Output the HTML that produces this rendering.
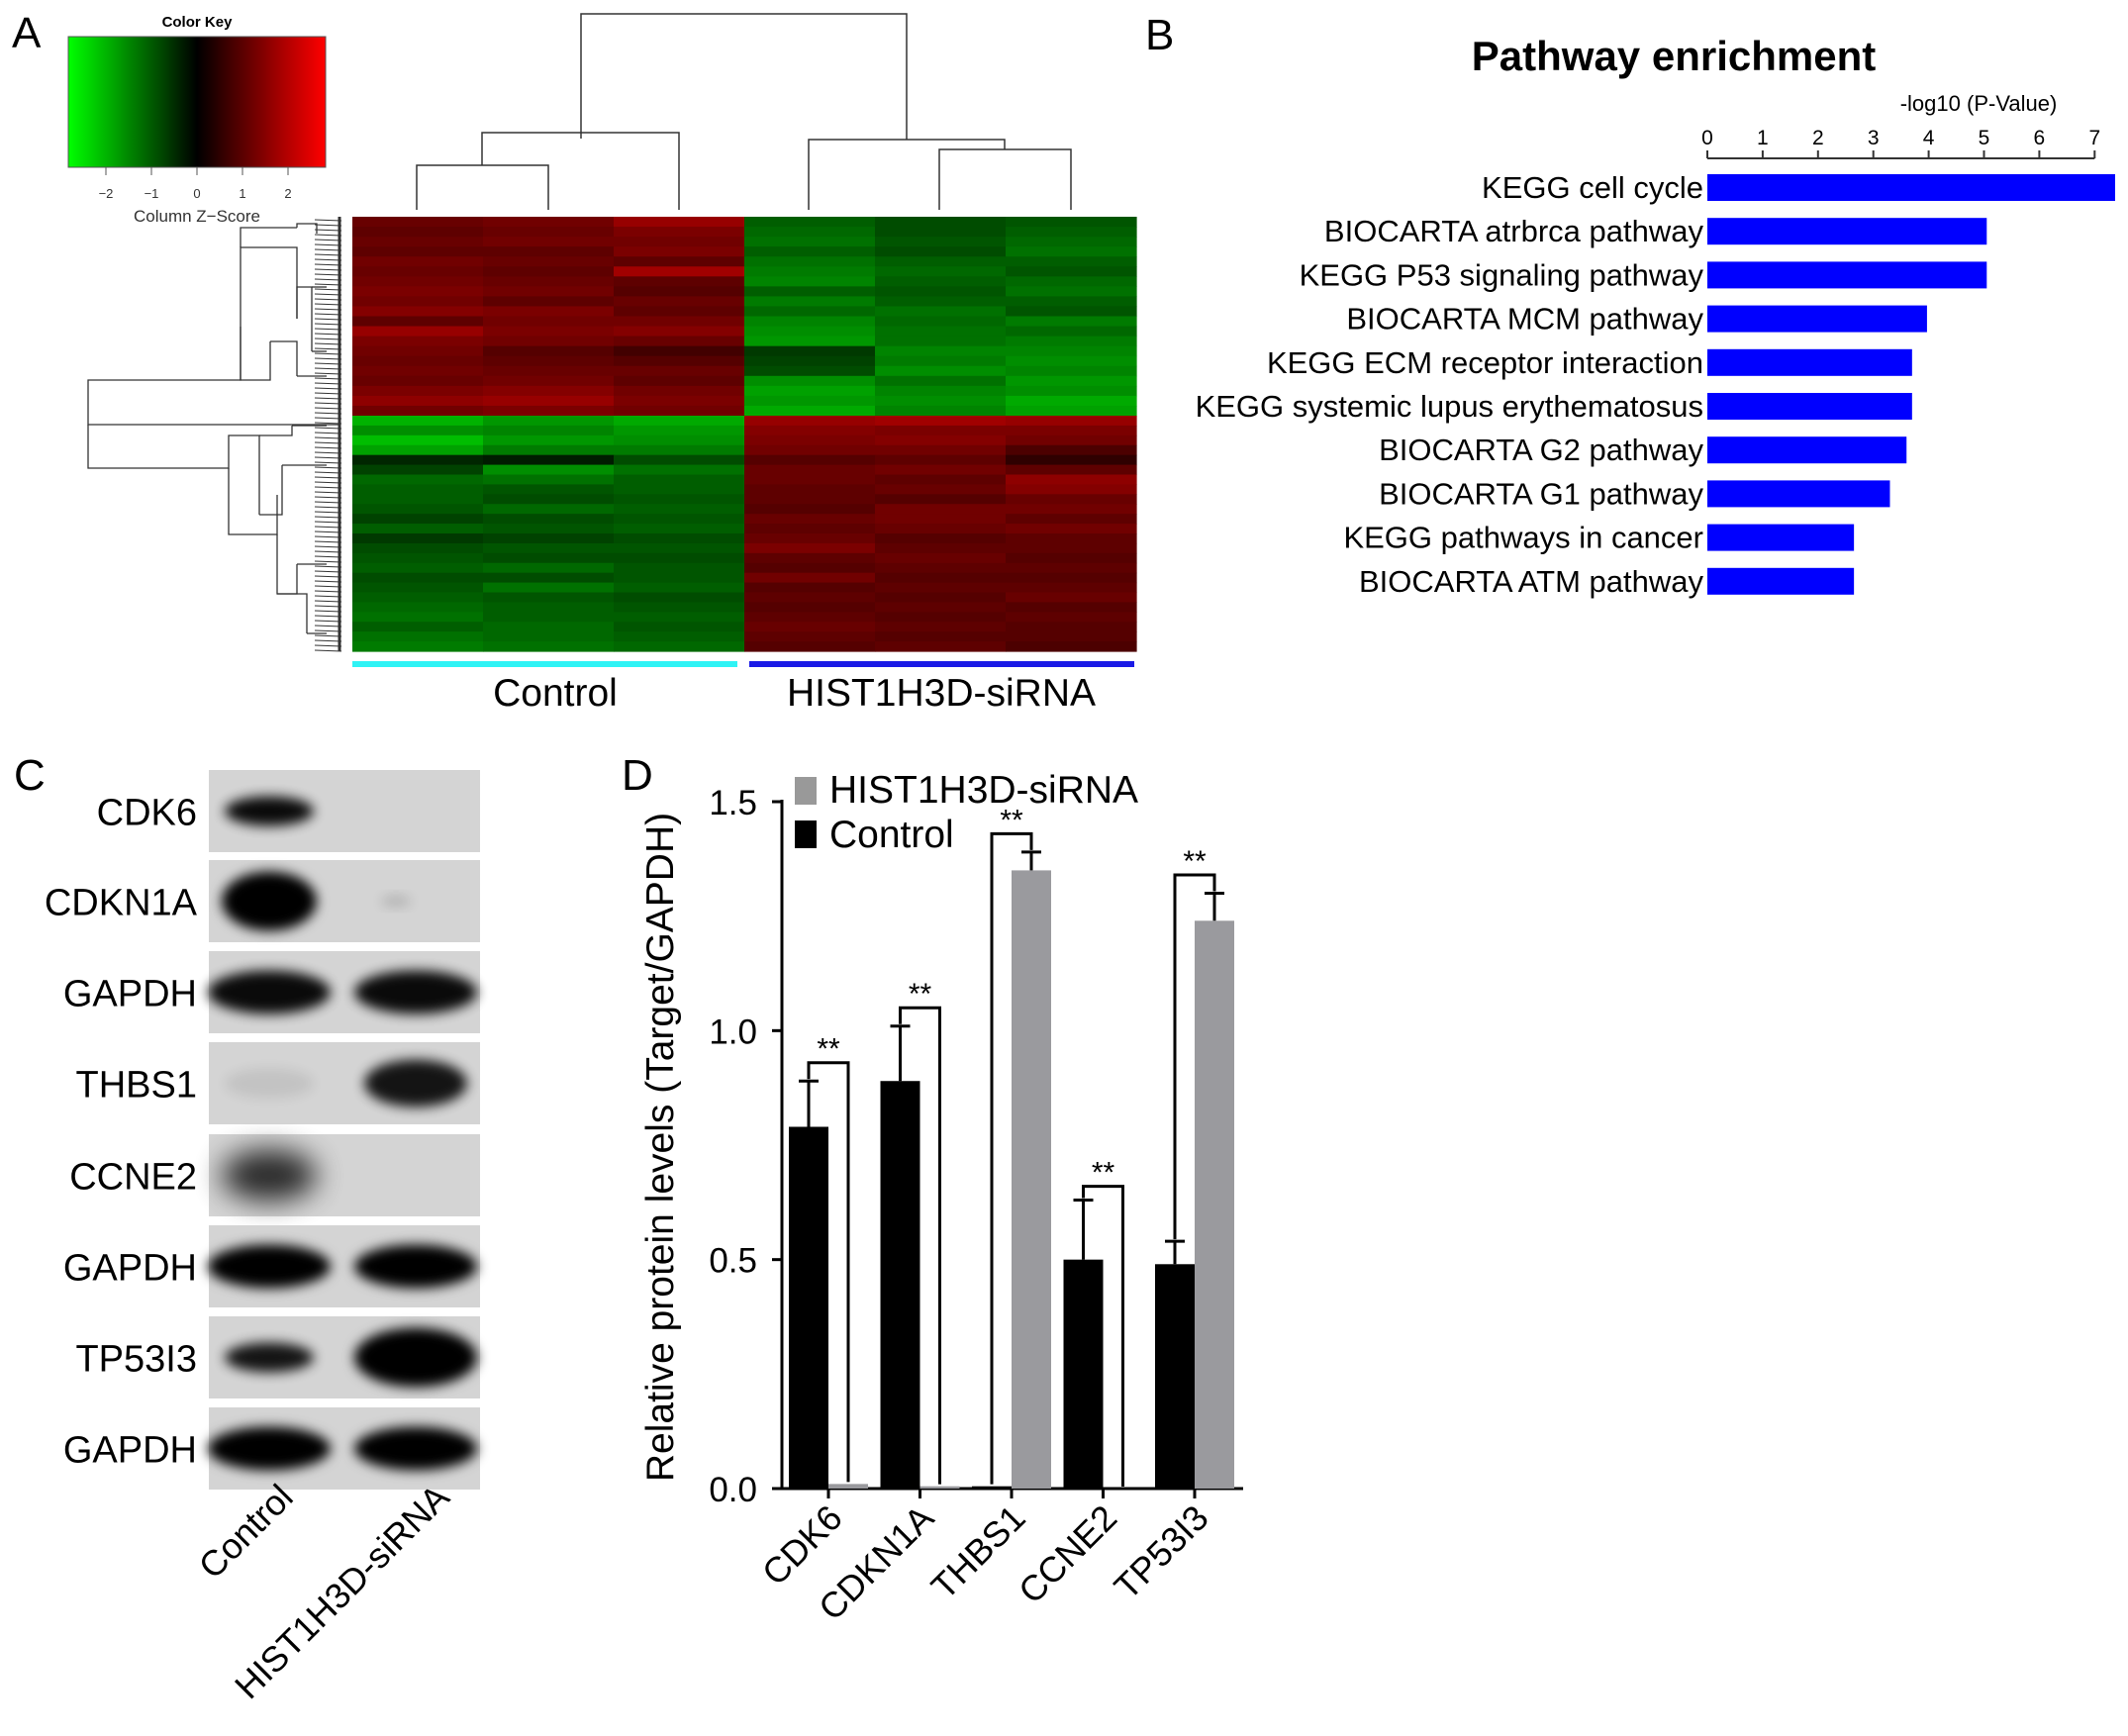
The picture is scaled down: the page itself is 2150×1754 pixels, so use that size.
<!DOCTYPE html>
<html><head><meta charset="utf-8"><style>
html,body{margin:0;padding:0;background:#fff;}
svg{display:block;font-family:"Liberation Sans",Arial,sans-serif;}
</style></head><body>
<svg id="fig" width="2150" height="1754" viewBox="0 0 2150 1754" xmlns="http://www.w3.org/2000/svg">
<defs>
<linearGradient id="ckey" x1="0" x2="1" y1="0" y2="0">
<stop offset="0" stop-color="#00ff00"/><stop offset="0.5" stop-color="#000"/><stop offset="1" stop-color="#ff0000"/>
</linearGradient>
<filter id="blur" x="-50%" y="-50%" width="200%" height="200%"><feGaussianBlur stdDeviation="6"/></filter>
<filter id="blur2" x="-50%" y="-50%" width="200%" height="200%"><feGaussianBlur stdDeviation="14"/></filter>
</defs>

<!-- Panel A -->
<text x="12" y="48" font-size="44">A</text>
<g>
<text x="199" y="27" font-size="15" font-weight="bold" text-anchor="middle">Color Key</text>
<rect x="69" y="37" width="260" height="132" fill="url(#ckey)" stroke="#555" stroke-width="1"/>
<g id="ckTicks"></g>
<text x="199" y="224" font-size="17" text-anchor="middle" fill="#333">Column Z−Score</text>
</g>
<g id="colDendro" stroke="#333" stroke-width="1.5" fill="none">
<path d="M587 140 V14 H916 V141"/>
<path d="M487 167 V134 H686 V212"/>
<path d="M421 212 V167 H554 V212"/>
<path d="M817 212 V141 H1015 V151"/>
<path d="M949 212 V151 H1082 V212"/>
</g>
<g id="rowDendro" stroke="#333" stroke-width="1.3" fill="none"></g>
<g id="heatmap"></g>
<rect x="356" y="668" width="389" height="6" fill="#2ff3f5"/>
<rect x="757" y="668" width="389" height="6" fill="#1a1ae6"/>
<text x="561" y="713" font-size="39" text-anchor="middle">Control</text>
<text x="951" y="713" font-size="39" text-anchor="middle">HIST1H3D-siRNA</text>

<!-- Panel B -->
<text x="1157" y="50" font-size="44">B</text>
<text x="1691" y="71" font-size="42" font-weight="bold" text-anchor="middle">Pathway enrichment</text>
<text x="1999" y="112" font-size="22" text-anchor="middle">-log10 (P-Value)</text>
<g id="pathway"></g>

<!-- Panel C -->
<text x="14" y="798" font-size="44">C</text>
<g id="blots"></g>
<text transform="translate(298,1515) rotate(-45)" font-size="36" text-anchor="end">Control</text>
<text transform="translate(456,1515) rotate(-45)" font-size="36" text-anchor="end">HIST1H3D-siRNA</text>

<!-- Panel D -->
<text x="628" y="798" font-size="44">D</text>
<g id="barchart"></g>
<text transform="translate(680,1159) rotate(-90)" font-size="39" text-anchor="middle">Relative protein levels (Target/GAPDH)</text>
<rect x="803" y="785" width="22" height="28" fill="#999"/>
<text x="838" y="811" font-size="39">HIST1H3D-siRNA</text>
<rect x="803" y="829" width="22" height="28" fill="#000"/>
<text x="838" y="856" font-size="39">Control</text>
</svg>
<script>
const NS='http://www.w3.org/2000/svg';
function mk(tag,attrs,parent){const e=document.createElementNS(NS,tag);for(const k in attrs)e.setAttribute(k,attrs[k]);parent.appendChild(e);return e;}

/* ---------- Color key ticks ---------- */
const ckTickVals=[-2,-1,0,1,2];
/* ---------- Heatmap data (z-scores, rows x 6 samples: C1 C2 C3 S1 S2 S3) ---------- */
const hmTop=[
[1.1,1.2,1.6,-1.0,-0.8,-0.9],[1.0,1.1,1.3,-1.1,-0.8,-1.0],[1.1,1.2,1.2,-1.2,-0.9,-1.1],[1.0,1.0,1.3,-1.0,-0.8,-1.2],
[1.2,1.1,1.0,-1.2,-1.0,-1.0],[1.1,1.0,1.7,-1.3,-1.1,-0.9],[1.2,1.1,1.0,-1.4,-1.0,-1.1],[1.3,1.2,0.9,-1.0,-0.9,-1.2],
[1.2,1.0,1.1,-1.3,-1.0,-1.0],[1.4,1.3,1.0,-1.1,-1.2,-0.9],[1.0,1.2,1.2,-1.4,-1.1,-1.3],[1.6,1.3,1.4,-1.5,-1.2,-1.1],
[1.3,1.2,1.1,-1.6,-1.2,-1.3],[1.2,0.9,0.7,-0.6,-1.4,-1.4],[1.1,1.0,0.9,-0.7,-1.3,-1.5],[1.2,1.1,1.1,-0.8,-1.5,-1.4],
[1.1,1.2,1.0,-1.5,-1.2,-1.6],[1.3,1.4,1.2,-1.7,-1.4,-1.5],[1.5,1.6,1.3,-1.6,-1.5,-1.8],[1.2,1.3,1.2,-1.8,-1.4,-1.7]];
const hmBottom=[
[-1.9,-1.6,-1.8,1.6,1.7,1.6],[-1.5,-1.4,-1.6,1.4,1.3,1.3],[-2.0,-1.6,-1.5,1.3,1.4,1.2],[-1.7,-1.3,-1.3,1.2,1.2,0.8],
[-0.4,-0.3,-0.8,0.9,1.0,0.5],[-0.7,-1.5,-1.2,1.1,1.2,1.0],[-1.1,-1.2,-1.0,1.1,1.0,1.5],[-1.0,-0.9,-1.0,1.0,1.1,1.4],
[-1.0,-0.8,-0.9,1.0,0.9,1.1],[-0.9,-1.1,-1.0,0.9,1.2,1.2],[-0.7,-0.8,-0.9,1.1,1.2,1.0],[-1.0,-0.9,-1.0,1.0,1.1,1.2],
[-0.6,-0.7,-0.8,1.1,0.9,1.0],[-0.8,-0.9,-0.9,1.3,1.0,1.0],[-0.9,-0.8,-0.8,1.0,1.1,0.9],[-1.0,-1.1,-0.9,0.9,1.0,1.0],
[-0.8,-0.8,-0.9,1.2,0.9,0.9],[-0.9,-1.2,-1.0,0.9,1.0,1.0],[-1.0,-0.9,-0.8,1.0,0.9,1.1],[-1.1,-1.0,-0.9,0.9,1.0,0.9],
[-1.2,-1.0,-1.0,1.0,0.9,1.0],[-1.0,-1.1,-0.9,1.1,1.0,0.9],[-1.2,-1.1,-1.0,1.0,0.9,0.9],[-1.3,-1.2,-1.1,0.9,1.0,0.8]];
/* ---------- Pathway data ---------- */
const pathways=['KEGG cell cycle','BIOCARTA atrbrca pathway','KEGG P53 signaling pathway','BIOCARTA MCM pathway','KEGG ECM receptor interaction','KEGG systemic lupus erythematosus','BIOCARTA G2 pathway','BIOCARTA G1 pathway','KEGG pathways in cancer','BIOCARTA ATM pathway'];
const pathwayValues=[7.37,5.05,5.05,3.97,3.7,3.7,3.6,3.3,2.65,2.65];
const pathwayTicks=[0,1,2,3,4,5,6,7];
/* ---------- Bar chart data ---------- */
const genes=['CDK6','CDKN1A','THBS1','CCNE2','TP53I3'];
const controlVals=[0.79,0.89,0.005,0.50,0.49];
const controlErr=[0.10,0.12,0,0.13,0.05];
const sirnaVals=[0.01,0.005,1.35,0.0,1.24];
const sirnaErr=[0,0,0.04,0,0.06];
const bracketVals=[0.93,1.05,1.43,0.66,1.34];
const yTicks=[0.0,0.5,1.0,1.5];
/* ---------- Blot data ---------- */
const blotLabels=['CDK6','CDKN1A','GAPDH','THBS1','CCNE2','GAPDH','TP53I3','GAPDH'];
const blotControl=[0.95,1.0,0.95,0.08,0.8,1.0,0.9,1.0];
const blotSirna=[0.0,0.15,0.95,0.9,0.0,1.0,1.0,1.0];

/* Color key ticks */
(function(){
  const g=document.getElementById('ckTicks');
  const sx=v=>199+v*46;
  ckTickVals.forEach(v=>{
    const t=mk('line',{x1:sx(v),x2:sx(v),y1:169,y2:177,stroke:'#555','stroke-width':1},g);
    
    
    const l=mk('text',{x:sx(v),y:200,'font-size':13,'text-anchor':'middle',fill:'#333'},g);
    
    
    l.textContent=(v<0?'−'+(-v):v);
  });
})();

/* Heatmap */
(function(){
  const g=document.getElementById('heatmap');
  const x0=356,w=792,colW=w/6;
  function col(z){const a=Math.min(1,Math.abs(z)/2.7);const c=Math.round(255*a);return z>=0?`rgb(${c},0,0)`:`rgb(0,${c},0)`;}
  function block(rows,y0,h){
    const rh=h/rows.length;
    rows.forEach((r,i)=>{r.forEach((z,j)=>{
      const c=mk('rect',{x:x0+j*colW,y:y0+i*rh,width:colW+0.6,height:rh+0.6,fill:col(z)},g);
      
      
    });});
  }
  block(hmTop,219,201);
  block(hmBottom,420,238);
})();

/* Row dendrogram (structure sketch) */
(function(){
  const g=document.getElementById('rowDendro');
  const paths=['M343 429 H89 V384 H243 V250 H300 V322','M89 429 V473 H231 V440 H262 V520',
  'M243 250 V230 H300 M243 330 V384 H273 V345','M231 473 V540 H280 V500',
  'M300 230 V226 H320 V236','M300 322 V290 H315 V355','M273 345 H300 V380','M262 440 H295 V430','M262 520 H285 V470',
  'M280 540 V600 H300 V570','M280 600 H310 V640','M315 290 H330','M315 355 H330','M300 380 H330','M295 430 H330','M285 470 H330','M300 570 H330','M310 640 H330'];
  paths.forEach(d=>mk('path',{d:d},g));
  for(let y=222;y<658;y+=5){mk('line',{x1:318,x2:345,y1:y,y2:y+1,'stroke-width':1},g);}
  mk('line',{x1:343,x2:343,y1:219,y2:658,'stroke-width':3},g);
})();

/* Pathway chart */
(function(){
  const g=document.getElementById('pathway');
  const x0=1725,unit=55.9,axisY=160;
  const sx=v=>x0+v*unit;
  mk('line',{x1:sx(0),x2:sx(7),y1:axisY,y2:axisY,stroke:'#333','stroke-width':2},g);
  pathwayTicks.forEach(v=>{
    const t=mk('line',{x1:sx(v),x2:sx(v),y1:axisY-8,y2:axisY,stroke:'#333','stroke-width':2},g);
    
    
    const l=mk('text',{x:sx(v),y:axisY-14,'font-size':21,'text-anchor':'middle'},g);
    
    
    l.textContent=v;
  });
  pathways.forEach((p,i)=>{
    const y=176+i*44.2;
    const b=mk('rect',{x:sx(0),y:y,width:sx(pathwayValues[i])-sx(0),height:27,fill:'#0000ff'},g);
    
    
    const l=mk('text',{x:x0-4,y:y+24,'font-size':31,'text-anchor':'end'},g);
    
    
    l.textContent=p;
  });
})();

/* Blots */
(function(){
  const g=document.getElementById('blots');
  const tops=[778,869,961,1053,1146,1238,1330,1422];
  const h=83;
  blotLabels.forEach((lab,i)=>{
    const y=tops[i];
    const bg=mk('rect',{x:211,y:y,width:274,height:h,fill:'#d4d4d4'},g);
    
    
    const cy=y+h/2;
    const a=blotControl[i],b=blotSirna[i];
    const big=(lab==='GAPDH');
    if(a>0.01){const e=mk('ellipse',{cx:272,cy:cy,rx:big?62:(lab==='CDKN1A'||lab==='CCNE2'?48:45),ry:(lab==='CDKN1A'?30:lab==='CCNE2'?26:big?22:15),fill:'#000',opacity:a,filter:lab==='CCNE2'?'url(#blur2)':'url(#blur)'},g);
      
      }
    if(b>0.01){const e=mk('ellipse',{cx:lab==='CDKN1A'?400:420,cy:cy,rx:lab==='CDKN1A'?15:(big?62:lab==='TP53I3'?62:52),ry:lab==='CDKN1A'?6:(lab==='TP53I3'?30:big?22:24),fill:'#000',opacity:b,filter:'url(#blur)'},g);
      
      }
    const t=mk('text',{x:199,y:cy+14,'font-size':38,'text-anchor':'end'},g);
    
    
    t.textContent=lab;
  });
})();

/* Bar chart */
(function(){
  const g=document.getElementById('barchart');
  const y0=1504,ppu=(1504-810)/1.5;
  const sy=v=>y0-v*ppu;
  const gx=i=>797+i*92.5;
  const bw=40;
  mk('line',{x1:790,x2:790,y1:808,y2:y0,stroke:'#000','stroke-width':3},g);
  mk('line',{x1:789,x2:1256,y1:y0,y2:y0,stroke:'#000','stroke-width':3},g);
  yTicks.forEach(v=>{
    const t=mk('line',{x1:780,x2:790,y1:sy(v),y2:sy(v),stroke:'#000','stroke-width':3},g);
    
    
    const l=mk('text',{x:765,y:sy(v)+13,'font-size':35,'text-anchor':'end'},g);
    
    
    l.textContent=v.toFixed(1);
  });
  genes.forEach((gn,i)=>{
    const xl=gx(i),cc=xl+bw/2,sc=xl+bw+bw/2;
    const cb=mk('rect',{x:xl,y:sy(controlVals[i]),width:bw,height:sy(0)-sy(controlVals[i]),fill:'#000'},g);
    
    
    const sb=mk('rect',{x:xl+bw,y:sy(sirnaVals[i]),width:bw,height:sy(0)-sy(sirnaVals[i]),fill:'#9a9a9e'},g);
    
    
    const errs=[[cc,controlVals[i],controlErr[i]],[sc,sirnaVals[i],sirnaErr[i]]];
    errs.forEach(([x,v,e])=>{ if(e>0){
      const el=mk('path',{d:`M${x} ${sy(v)} V${sy(v+e)} M${x-10} ${sy(v+e)} H${x+10}`,stroke:'#000','stroke-width':3,fill:'none'},g);
      
      }});
    const lTop=sy(controlVals[i]+controlErr[i])-2, rTop=sy(sirnaVals[i]+sirnaErr[i])-2;
    const by=sy(bracketVals[i]);
    const br=mk('path',{d:`M${cc} ${lTop} V${by} H${sc} V${rTop}`,stroke:'#000','stroke-width':3,fill:'none'},g);
    
    
    const st=mk('text',{x:(cc+sc)/2,y:by-4,'font-size':30,'text-anchor':'middle'},g);
    
    
    st.textContent='**';
    const xt=mk('line',{x1:xl+bw,x2:xl+bw,y1:y0,y2:y0+10,stroke:'#000','stroke-width':3},g);
    
    
    const lab=mk('text',{transform:`translate(${xl+bw+16},${y0+32}) rotate(-45)`,'font-size':36,'text-anchor':'end'},g);
    
    
    lab.textContent=gn;
  });
})();
</script>
</body></html>
